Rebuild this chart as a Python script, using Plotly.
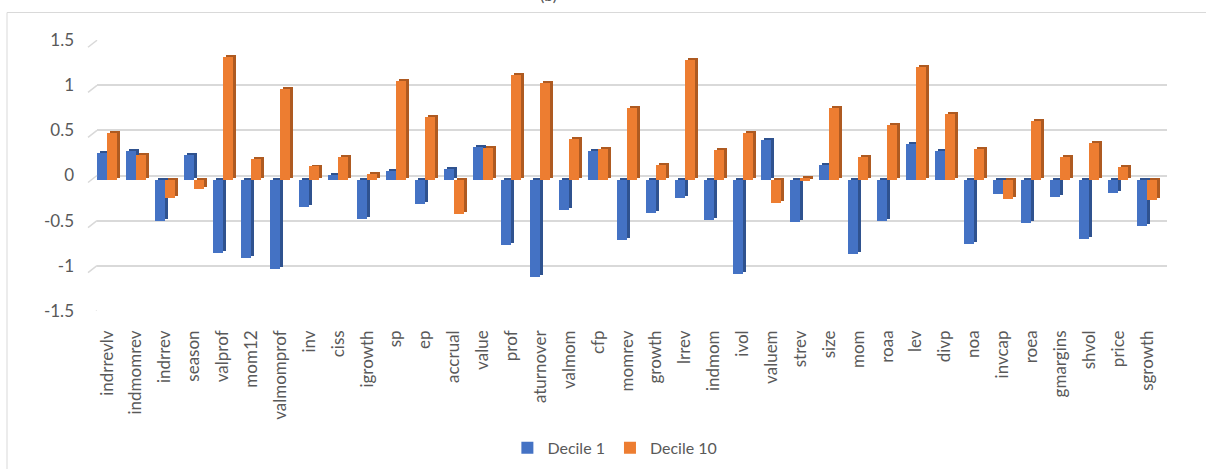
import plotly.graph_objects as go

# Factor names along the x axis
factors = [
    "indrrevlv", "indmomrev", "indrrev", "season", "valprof", "mom12", "valmomprof",
    "inv", "ciss", "igrowth", "sp", "ep", "accrual", "value", "prof", "aturnover",
    "valmom", "cfp", "momrev", "growth", "lrrev", "indmom", "ivol", "valuem", "strev",
    "size", "mom", "roaa", "lev", "divp", "noa", "invcap", "roea", "gmargins", "shvol",
    "price", "sgrowth",
]

# Average values for the bottom and top deciles
decile_1 = [
    0.30, 0.32, -0.46, 0.28, -0.81, -0.86, -0.99,
    -0.30, 0.06, -0.43, 0.10, -0.27, 0.12, 0.37, -0.72, -1.08,
    -0.33, 0.32, -0.66, -0.37, -0.20, -0.44, -1.04, 0.44, -0.47,
    0.17, -0.82, -0.45, 0.40, 0.32, -0.71, -0.15, -0.48, -0.19, -0.65,
    -0.14, -0.51,
]
decile_10 = [
    0.52, 0.28, -0.20, -0.10, 1.36, 0.23, 1.01,
    0.15, 0.25, 0.07, 1.10, 0.70, -0.38, 0.36, 1.16, 1.08,
    0.45, 0.34, 0.80, 0.17, 1.33, 0.33, 0.52, -0.25, 0.02,
    0.80, 0.26, 0.61, 1.25, 0.73, 0.34, -0.21, 0.66, 0.25, 0.41,
    0.14, -0.22,
]

y_ticks = [-1.5, -1, -0.5, 0, 0.5, 1, 1.5]
y_tick_text = ["-1.5", "-1", "-0.5", "0", "0.5", "1", "1.5"]

BLUE, BLUE_SIDE = "#4472C4", "#2F528F"
ORANGE, ORANGE_SIDE = "#ED7D31", "#AE5A21"
GRID = "#D9D9D9"
TEXT = "#595959"
FONT = "Lato"

N = len(factors)
PLOT_W = 1070                     # plot area width in px
PLOT_H = 271                      # plot area height in px
CAT_PX = 28.89                    # px per category
BAR_W = 10 / CAT_PX               # width of one bar in category units
DEPTH = 3 / CAT_PX                # horizontal depth of the shaded side face
X_LO = -10 / CAT_PX
X_HI = X_LO + PLOT_W / CAT_PX

Y_RANGE = [-1.503, 1.503]
SIDE_SHIFT = 0.028                # side faces sit a little lower than the back wall
FRONT_SHIFT = 0.05                # front faces sit lower still

idx = list(range(N))

fig = go.Figure()

# Side faces (yaxis2 layer) lie underneath the front faces (yaxis3 layer)
fig.add_trace(go.Bar(x=idx, y=decile_1, width=BAR_W, offset=-BAR_W + DEPTH, yaxis="y2",
                     marker=dict(color=BLUE_SIDE, line=dict(width=0)),
                     showlegend=False, hoverinfo="skip"))
fig.add_trace(go.Bar(x=idx, y=decile_10, width=BAR_W, offset=DEPTH, yaxis="y2",
                     marker=dict(color=ORANGE_SIDE, line=dict(width=0)),
                     showlegend=False, hoverinfo="skip"))
fig.add_trace(go.Bar(x=idx, y=decile_1, width=BAR_W, offset=-BAR_W, name="Decile 1", yaxis="y3",
                     marker=dict(color=BLUE, line=dict(width=0))))
fig.add_trace(go.Bar(x=idx, y=decile_10, width=BAR_W, offset=0, name="Decile 10", yaxis="y3",
                     marker=dict(color=ORANGE, line=dict(width=0))))

shapes = []
# Perspective stubs at the left end of each gridline
for v in y_ticks:
    shapes.append(dict(type="line", xref="paper", yref="y",
                       x0=-9 / PLOT_W, y0=v - 0.0775, x1=0, y1=v,
                       line=dict(color=GRID, width=1.5)))
# Chart frame
shapes.append(dict(type="rect", xref="paper", yref="paper",
                   x0=-90 / PLOT_W, y0=-0.65, x1=1.2, y1=1 + 27.5 / PLOT_H,
                   line=dict(color=GRID, width=1), fillcolor="rgba(0,0,0,0)", layer="below"))

fig.update_layout(
    width=1206, height=469,
    margin=dict(l=97, r=39, t=40, b=158, autoexpand=False),
    paper_bgcolor="white", plot_bgcolor="white",
    barmode="overlay", bargap=0,
    font=dict(family=FONT, color=TEXT, size=15),
    shapes=shapes,
    showlegend=True,
    legend=dict(orientation="h", x=0.484, xanchor="center", y=-0.505, yanchor="middle",
                font=dict(size=16, color=TEXT, family=FONT), itemwidth=30,
                traceorder="normal"),
    annotations=[dict(text="(b)", xref="paper", yref="paper", x=0.4215, y=1 + 46 / PLOT_H,
                      xanchor="center", yanchor="middle", showarrow=False,
                      font=dict(size=16, color=TEXT, family=FONT))],
    xaxis=dict(
        range=[X_LO, X_HI], automargin=False,
        tickmode="array", tickvals=idx, ticktext=factors, tickangle=-90,
        showgrid=False, zeroline=False, showline=False, ticks="",
        tickfont=dict(size=17, color=TEXT, family=FONT),
        ticklabelstandoff=15,
    ),
    yaxis=dict(
        range=Y_RANGE, automargin=False,
        tickmode="array", tickvals=y_ticks, ticktext=y_tick_text,
        showgrid=True, gridcolor=GRID, gridwidth=1.5,
        zeroline=False, showline=False, ticks="",
        tickfont=dict(size=17, color=TEXT, family=FONT),
        ticklabelstandoff=22,
    ),
    yaxis2=dict(
        overlaying="y", range=[Y_RANGE[0] + SIDE_SHIFT, Y_RANGE[1] + SIDE_SHIFT],
        visible=False, showgrid=False, zeroline=False,
    ),
    yaxis3=dict(
        overlaying="y", range=[Y_RANGE[0] + FRONT_SHIFT, Y_RANGE[1] + FRONT_SHIFT],
        visible=False, showgrid=False, zeroline=False,
    ),
)

fig.write_html("out.html")
